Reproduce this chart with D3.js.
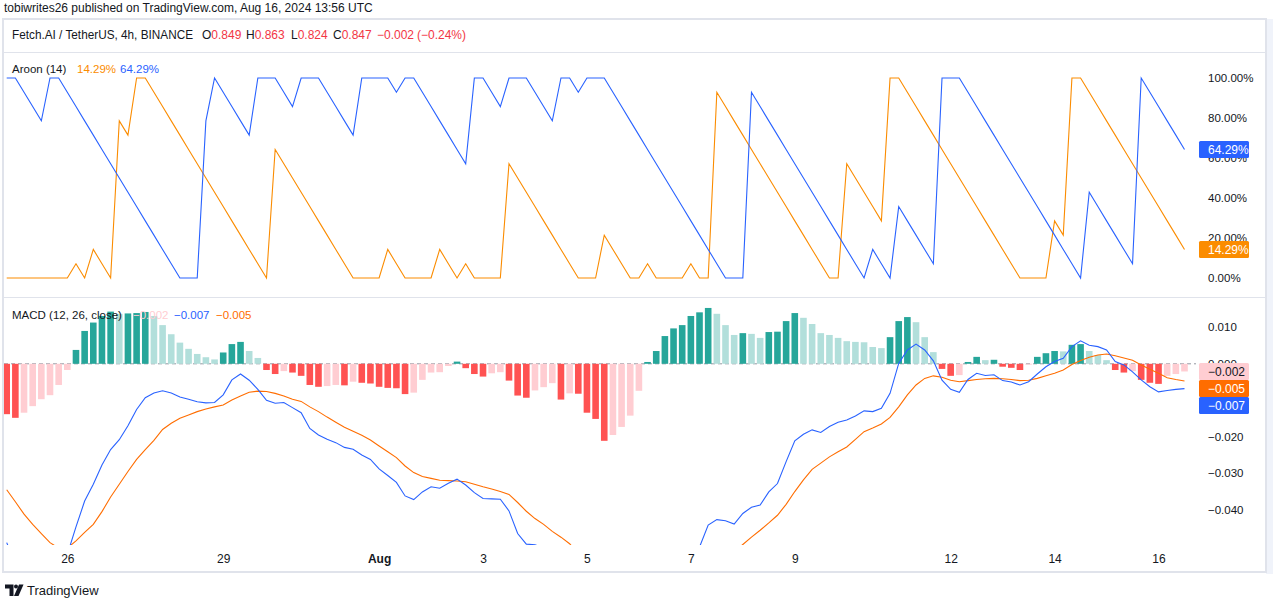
<!DOCTYPE html>
<html><head><meta charset="utf-8">
<script src="https://cdn.jsdelivr.net/npm/d3@7"></script>
<style>
html,body{margin:0;padding:0;background:#fff;}
svg{display:block;font-family:"Liberation Sans",Arial,sans-serif;}
</style></head><body>
<svg id="c" width="1273" height="601"></svg>
<script>
// ---------- data (one value per 4h bar) ----------
const firstBar = "2024-07-24T20:00:00Z";
const barHours = 4;

// Aroon Up (orange) and Aroon Down (blue), percent
const aroonUp = [0,0,0,0,0,0,0,0,7.14,0,14.29,7.14,0,78.57,71.43,100,100,92.86,85.71,78.57,
71.43,64.29,57.14,50,42.86,35.71,28.57,21.43,14.29,7.14,0,64.29,57.14,50,42.86,35.71,28.57,21.43,14.29,7.14,
0,0,0,0,14.29,7.14,0,0,0,0,14.29,7.14,0,7.14,0,0,0,0,57.14,50,
42.86,35.71,28.57,21.43,14.29,7.14,0,0,0,21.43,14.29,7.14,0,0,7.14,0,0,0,0,7.14,
0,0,92.86,85.71,78.57,71.43,64.29,57.14,50,42.86,35.71,28.57,21.43,14.29,7.14,0,0,57.14,50,42.86,
35.71,28.57,100,100,92.86,85.71,78.57,71.43,64.29,57.14,50,42.86,35.71,28.57,21.43,14.29,7.14,0,0,0,
0,28.57,21.43,100,100,92.86,85.71,78.57,71.43,64.29,57.14,50,42.86,35.71,28.57,21.43,14.29];
const aroonDown = [100,100,92.86,85.71,78.57,100,100,92.86,85.71,78.57,71.43,64.29,57.14,50,42.86,35.71,28.57,21.43,14.29,7.14,
0,0,0,78.57,100,92.86,85.71,78.57,71.43,100,100,100,92.86,85.71,100,100,100,92.86,85.71,78.57,
71.43,100,100,100,100,92.86,100,100,92.86,85.71,78.57,71.43,64.29,57.14,100,100,92.86,85.71,100,100,
100,92.86,85.71,78.57,100,100,92.86,100,100,100,92.86,85.71,78.57,71.43,64.29,57.14,50,42.86,35.71,28.57,
21.43,14.29,7.14,0,0,0,92.86,85.71,78.57,71.43,64.29,57.14,50,42.86,35.71,28.57,21.43,14.29,7.14,0,
14.29,7.14,0,35.71,28.57,21.43,14.29,7.14,100,100,100,92.86,85.71,78.57,71.43,64.29,57.14,50,42.86,35.71,
28.57,21.43,14.29,7.14,0,42.86,35.71,28.57,21.43,14.29,7.14,100,92.86,85.71,78.57,71.43,64.29];

// MACD (12, 26, close)
const macdLine = [-0.0490,-0.0548,-0.0546,-0.0556,-0.0562,-0.0576,-0.0563,-0.0522,-0.0447,-0.0376,
-0.0330,-0.0277,-0.0235,-0.0208,-0.0170,-0.0125,-0.0093,-0.0080,-0.0074,-0.0080,
-0.0091,-0.0097,-0.0104,-0.0107,-0.0106,-0.0085,-0.0044,-0.0028,-0.0045,-0.0070,
-0.0100,-0.0108,-0.0106,-0.0120,-0.0134,-0.0177,-0.0195,-0.0207,-0.0216,-0.0229,
-0.0234,-0.0250,-0.0262,-0.0288,-0.0306,-0.0325,-0.0362,-0.0372,-0.0351,-0.0337,
-0.0341,-0.0327,-0.0316,-0.0332,-0.0353,-0.0369,-0.0370,-0.0371,-0.0403,-0.0465,
-0.0494,-0.0496,-0.0504,-0.0512,-0.0573,-0.0576,-0.0602,-0.0679,-0.0726,-0.0821,
-0.0835,-0.0838,-0.0827,-0.0774,-0.0700,-0.0663,-0.0612,-0.0579,-0.0558,-0.0520,
-0.0502,-0.0442,-0.0427,-0.0430,-0.0439,-0.0410,-0.0393,-0.0387,-0.0351,-0.0328,
-0.0268,-0.0211,-0.0193,-0.0181,-0.0188,-0.0172,-0.0160,-0.0154,-0.0143,-0.0129,
-0.0131,-0.0122,-0.0081,0.0001,0.0038,0.0054,0.0038,0.0008,-0.0045,-0.0070,
-0.0078,-0.0043,-0.0026,-0.0032,-0.0030,-0.0046,-0.0050,-0.0058,-0.0049,-0.0028,
-0.0008,0.0006,0.0015,0.0047,0.0063,0.0051,0.0047,0.0038,0.0006,-0.0003,
-0.0022,-0.0044,-0.0063,-0.0077,-0.0073,-0.0070,-0.0068];
const signalLine = [-0.0345,-0.0378,-0.0412,-0.0440,-0.0465,-0.0490,-0.0505,-0.0505,-0.0485,-0.0462,
-0.0440,-0.0405,-0.0365,-0.0330,-0.0295,-0.0262,-0.0235,-0.0210,-0.0180,-0.0163,
-0.0149,-0.0140,-0.0131,-0.0124,-0.0118,-0.0113,-0.0099,-0.0088,-0.0078,-0.0075,
-0.0076,-0.0081,-0.0088,-0.0097,-0.0103,-0.0118,-0.0131,-0.0146,-0.0160,-0.0174,
-0.0185,-0.0196,-0.0209,-0.0225,-0.0241,-0.0257,-0.0280,-0.0298,-0.0309,-0.0314,
-0.0319,-0.0320,-0.0321,-0.0323,-0.0330,-0.0337,-0.0343,-0.0350,-0.0358,-0.0380,
-0.0404,-0.0424,-0.0440,-0.0459,-0.0475,-0.0493,-0.0520,-0.0545,-0.0575,-0.0610,
-0.0640,-0.0665,-0.0685,-0.0700,-0.0705,-0.0698,-0.0688,-0.0676,-0.0664,-0.0651,
-0.0640,-0.0600,-0.0566,-0.0538,-0.0515,-0.0495,-0.0475,-0.0456,-0.0436,-0.0415,
-0.0385,-0.0350,-0.0318,-0.0289,-0.0272,-0.0255,-0.0241,-0.0228,-0.0207,-0.0186,
-0.0176,-0.0165,-0.0147,-0.0118,-0.0085,-0.0058,-0.0040,-0.0033,-0.0037,-0.0045,
-0.0049,-0.0046,-0.0043,-0.0041,-0.0040,-0.0041,-0.0043,-0.0046,-0.0045,-0.0040,
-0.0033,-0.0026,-0.0017,-0.0002,0.0009,0.0018,0.0024,0.0027,0.0022,0.0016,
0.0010,-0.0003,-0.0015,-0.0026,-0.0038,-0.0043,-0.0047];
const histogram = [-0.0138,-0.0148,-0.0134,-0.0116,-0.0097,-0.0086,-0.0058,-0.0017,0.0038,0.0090,
0.0113,0.0131,0.0143,0.0137,0.0138,0.0139,0.0142,0.0131,0.0106,0.0081,
0.0058,0.0041,0.0027,0.0018,0.0012,0.0031,0.0054,0.0060,0.0035,0.0016,
-0.0017,-0.0028,-0.0020,-0.0024,-0.0033,-0.0058,-0.0063,-0.0061,-0.0058,-0.0059,
-0.0049,-0.0052,-0.0054,-0.0063,-0.0066,-0.0067,-0.0083,-0.0079,-0.0044,-0.0024,
-0.0023,-0.0006,0.0006,-0.0012,-0.0028,-0.0035,-0.0026,-0.0023,-0.0046,-0.0087,
-0.0093,-0.0073,-0.0064,-0.0053,-0.0098,-0.0081,-0.0082,-0.0134,-0.0151,-0.0211,
-0.0195,-0.0173,-0.0142,-0.0074,0.0005,0.0035,0.0076,0.0097,0.0106,0.0131,
0.0141,0.0153,0.0137,0.0106,0.0079,0.0084,0.0082,0.0071,0.0087,0.0088,
0.0117,0.0139,0.0126,0.0109,0.0084,0.0079,0.0071,0.0062,0.0060,0.0059,
0.0046,0.0043,0.0073,0.0117,0.0128,0.0114,0.0073,0.0032,-0.0014,-0.0033,
-0.0031,0.0005,0.0019,0.0010,0.0011,-0.0008,-0.0011,-0.0017,-0.0002,0.0019,
0.0029,0.0035,0.0034,0.0052,0.0054,0.0035,0.0024,0.0010,-0.0017,-0.0024,
-0.0020,-0.0044,-0.0052,-0.0055,-0.0033,-0.0028,-0.0021];

const tickDates = ["2024-07-26","2024-07-29","2024-08-01","2024-08-03","2024-08-05","2024-08-07","2024-08-09","2024-08-12","2024-08-14","2024-08-16"];
const tickLabels = ["26","29","Aug","3","5","7","9","12","14","16"];
const aroonTicks = [0,20,40,60,80,100];
const macdTicks = [0.01,0,-0.01,-0.02,-0.03,-0.04];

const headerText = "tobiwrites26 published on TradingView.com, Aug 16, 2024 13:56 UTC";
const symbolText = "Fetch.AI / TetherUS, 4h, BINANCE";
const ohlc = [["O","0.849"],["H","0.863"],["L","0.824"],["C","0.847"]];
const changeText = ["\u22120.002","(\u22120.24%)"];

// ---------- colours ----------
const C = {
  text:"#131722", border:"#e0e3eb", red:"#f23645",
  aUp:"#fb8c00", aDown:"#2962ff",
  macd:"#2962ff", signal:"#ff6d00",
  gUp:"#26a69a", gDn:"#b2dfdb", rDn:"#ff5252", rUp:"#ffcdd2"
};

const svg = d3.select("#c");
svg.append("rect").attr("width",1273).attr("height",601).attr("fill","#fff");

const t0 = new Date(firstBar);
const times = aroonUp.map((_, i) => new Date(t0.getTime() + i*barHours*3600e3));
const x = d3.scaleUtc().domain([times[0], times[times.length-1]]).range([6.7, 1184.5]);
const yA = d3.scaleLinear().domain([0,100]).range([278,78]);
const yM = d3.scaleLinear().domain([-0.05,0.01]).range([546.3,327.3]);

// ---------- frame ----------
svg.append("rect").attr("x",1266).attr("y",19).attr("width",7).attr("height",555).attr("fill","#f0f3fa");
svg.append("rect").attr("x",3).attr("y",19).attr("width",1263).attr("height",553)
  .attr("fill","none").attr("stroke",C.border).attr("stroke-width",2);
svg.append("line").attr("x1",4).attr("x2",1266).attr("y1",52.5).attr("y2",52.5).attr("stroke",C.border);
svg.append("line").attr("x1",4).attr("x2",1266).attr("y1",297.5).attr("y2",297.5).attr("stroke",C.border);

// ---------- header ----------
svg.append("text").attr("x",4).attr("y",11.5).attr("font-size",12).attr("fill",C.text).text(headerText);
svg.append("text").attr("x",12).attr("y",38.5).attr("font-size",12).attr("fill",C.text)
  .attr("textLength",181).attr("lengthAdjust","spacingAndGlyphs").text(symbolText);
const ohlcX = [202,246,291,333];
ohlc.forEach((d,k)=>{
  const t = svg.append("text").attr("x",ohlcX[k]).attr("y",38.5).attr("font-size",12);
  t.append("tspan").attr("fill",C.text).text(d[0]);
  t.append("tspan").attr("fill",C.red).text(d[1]);
});
svg.append("text").attr("x",377).attr("y",38.5).attr("font-size",12).attr("fill",C.red).text(changeText[0]);
svg.append("text").attr("x",417).attr("y",38.5).attr("font-size",12).attr("fill",C.red).text(changeText[1]);

// ---------- clips ----------
const defs = svg.append("defs");
defs.append("clipPath").attr("id","clipA").append("rect").attr("x",4).attr("y",53).attr("width",1192).attr("height",244);
defs.append("clipPath").attr("id","clipM").append("rect").attr("x",4).attr("y",298).attr("width",1192).attr("height",247);

// ---------- Aroon pane ----------
const gA = svg.append("g").attr("clip-path","url(#clipA)");
const lineA = d3.line().x((d,i)=>x(times[i])).y(d=>yA(d));
gA.append("path").attr("d",lineA(aroonUp)).attr("fill","none").attr("stroke",C.aUp).attr("stroke-width",1.1);
gA.append("path").attr("d",lineA(aroonDown)).attr("fill","none").attr("stroke",C.aDown).attr("stroke-width",1.1);

// ---------- MACD pane ----------
const gM = svg.append("g").attr("clip-path","url(#clipM)");
gM.append("line").attr("x1",4).attr("x2",1196).attr("y1",yM(0)).attr("y2",yM(0))
  .attr("stroke","#9598a1").attr("stroke-dasharray","4,3").attr("stroke-width",1);
const barW = 6.6;
gM.selectAll("rect.h").data(histogram).join("rect").attr("class","h")
  .attr("x",(d,i)=>x(times[i])-barW/2)
  .attr("width",barW)
  .attr("y",d=>Math.min(yM(d),yM(0)))
  .attr("height",d=>Math.max(0.8,Math.abs(yM(d)-yM(0))))
  .attr("fill",(d,i)=>{
    const rising = i>0 && d>histogram[i-1];
    if (d>=0) return rising ? C.gUp : C.gDn;
    return rising ? C.rUp : C.rDn;
  });
const lineM = d3.line().x((d,i)=>x(times[i])).y(d=>yM(d));
gM.append("path").attr("d",lineM(signalLine)).attr("fill","none").attr("stroke",C.signal).attr("stroke-width",1.1);
gM.append("path").attr("d",lineM(macdLine)).attr("fill","none").attr("stroke",C.macd).attr("stroke-width",1.1);

// ---------- legends ----------
const fmtPct = v => v.toFixed(2)+"%";
const fmtM = v => (v<0?"\u2212":"")+Math.abs(v).toFixed(3);
const last = aroonUp.length-1;
const legA = svg.append("text").attr("x",12).attr("y",73).attr("font-size",11.5);
legA.append("tspan").attr("fill",C.text).text("Aroon (14)");
legA.append("tspan").attr("x",77).attr("fill",C.aUp).text(fmtPct(aroonUp[last]));
legA.append("tspan").attr("x",120).attr("fill",C.aDown).text(fmtPct(aroonDown[last]));
const legM = svg.append("text").attr("x",12).attr("y",319).attr("font-size",11.5);
legM.append("tspan").attr("fill",C.text).text("MACD (12, 26, close)");
legM.append("tspan").attr("x",133).attr("fill",C.rUp).text(fmtM(histogram[last]));
legM.append("tspan").attr("x",174).attr("fill",C.macd).text(fmtM(macdLine[last]));
legM.append("tspan").attr("x",216).attr("fill",C.signal).text(fmtM(signalLine[last]));

// ---------- axes ----------
function styleAxis(g){
  g.select(".domain").remove();
  g.selectAll("line").remove();
  g.selectAll("text").attr("fill",C.text).attr("font-size",11.5)
    .attr("font-family","'Liberation Sans',Arial,sans-serif");
}
svg.append("g").attr("transform","translate(1208,0)")
  .call(d3.axisRight(yA).tickValues(aroonTicks).tickSize(0).tickPadding(0).tickFormat(fmtPct))
  .call(styleAxis);
svg.append("g").attr("transform","translate(1208,0)")
  .call(d3.axisRight(yM).tickValues(macdTicks).tickSize(0).tickPadding(0).tickFormat(fmtM))
  .call(styleAxis);
const xa = svg.append("g").attr("transform","translate(0,548)")
  .call(d3.axisBottom(x).tickValues(tickDates.map(d=>new Date(d+"T00:00:00Z"))).tickSize(0).tickPadding(0)
    .tickFormat((d,i)=>tickLabels[i]))
  .call(styleAxis);
xa.selectAll("text").attr("dy",null).attr("y",14.5).attr("font-size",12)
  .attr("font-weight",(d,i)=>tickLabels[i]==="Aug"?"bold":null);

// ---------- last-value boxes ----------
function boxes(items, h){
  items.sort((a,b)=>a.y-b.y);
  let prev = -1e9;
  items.forEach(it=>{
    let cy = Math.max(it.y, prev + h);
    prev = cy;
    svg.append("rect").attr("x",1199).attr("y",cy-h/2).attr("width",50).attr("height",h)
      .attr("rx",1.5).attr("fill",it.bg);
    svg.append("text").attr("x",1208).attr("y",cy+4.2).attr("font-size",12)
      .attr("fill",it.fg).text(it.label);
  });
}
boxes([
  {y:yA(aroonDown[last]), bg:C.aDown, fg:"#fff", label:fmtPct(aroonDown[last])},
  {y:yA(aroonUp[last]), bg:C.aUp, fg:"#fff", label:fmtPct(aroonUp[last])}
], 17);
boxes([
  {y:yM(histogram[last]), bg:C.rUp, fg:C.text, label:fmtM(histogram[last])},
  {y:yM(signalLine[last]), bg:C.signal, fg:"#fff", label:fmtM(signalLine[last])},
  {y:yM(macdLine[last]), bg:C.macd, fg:"#fff", label:fmtM(macdLine[last])}
], 17);

// ---------- footer logo ----------
const logo = svg.append("g").attr("fill",C.text);
logo.append("path").attr("d","M5,584.5 H13.5 V596 H9.5 V588.5 H5 Z");
logo.append("circle").attr("cx",16).attr("cy",586.5).attr("r",2);
logo.append("path").attr("d","M19,584.5 H23.5 L18.5,596 H14 Z");
svg.append("text").attr("x",27).attr("y",595).attr("font-size",13).attr("fill",C.text).text("TradingView");
</script>
</body></html>
